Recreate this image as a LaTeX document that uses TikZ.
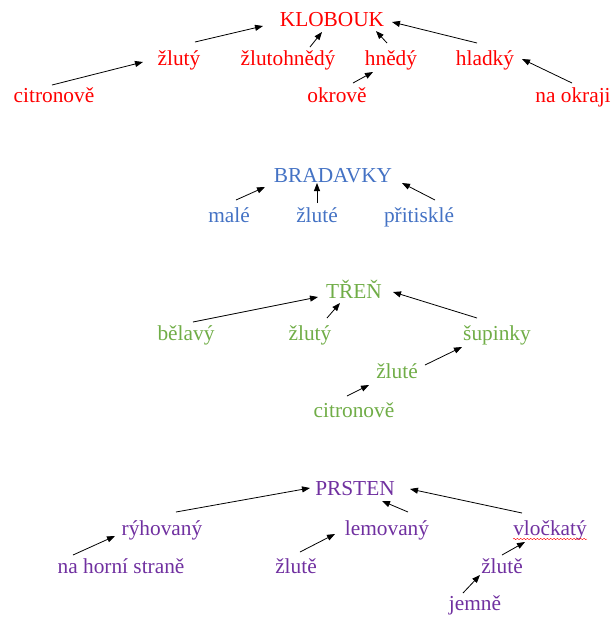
\documentclass[tikz,border=0pt]{standalone}
\usepackage{fontspec}
\setmainfont{Liberation Serif}
\usepackage{xcolor}
\usetikzlibrary{arrows.meta,calc,decorations.pathmorphing}

\definecolor{kred}{HTML}{FF0000}
\definecolor{kblue}{HTML}{4472C4}
\definecolor{kgreen}{HTML}{70AD47}
\definecolor{kpurple}{HTML}{7030A0}

\begin{document}
\begin{tikzpicture}[x=0.75pt,y=-0.75pt,
  word/.style={anchor=base,inner sep=0pt,font=\fontsize{16}{19}\selectfont},
  arr/.style={-{Triangle[length=6pt,width=4.5pt]},line width=0.6pt}]
\useasboundingbox (0,0) rectangle (616,619);

% klobouk
\node[word,kred] (klobouk) at (332,26) {KLOBOUK};
\node[word,kred] (zluty) at (179,65) {žlutý};
\node[word,kred] (zlutohnedy) at (288,65) {žlutohnědý};
\node[word,kred] (hnedy) at (391,65) {hnědý};
\node[word,kred] (hladky) at (485,65) {hladký};
\node[word,kred] (citronove) at (54,102) {citronově};
\node[word,kred] (okrove) at (337,102) {okrově};
\node[word,kred] (naokraji) at (573,102) {na okraji};

\draw[arr] ($(citronove.base)+(-2,-17)$) -- ($(zluty.base)+(-36,-3)$);
\draw[arr] ($(zluty.base)+(16,-23)$) -- ($(klobouk.base)+(-69,0)$);
\draw[arr] ($(zlutohnedy.base)+(22,-18)$) -- ($(klobouk.base)+(-10,6)$);
\draw[arr] ($(hnedy.base)+(-4,-22)$) -- ($(klobouk.base)+(44,5)$);
\draw[arr] ($(hladky.base)+(-8,-22)$) -- ($(klobouk.base)+(60,-4)$);
\draw[arr] ($(okrove.base)+(16,-19)$) -- ($(hnedy.base)+(-18,7)$);
\draw[arr] ($(naokraji.base)+(-1,-19)$) -- ($(hladky.base)+(37,-6)$);

% bradavky
\node[word,kblue] (bradavky) at (333,182) {BRADAVKY};
\node[word,kblue] (male) at (229,222) {malé};
\node[word,kblue] (zlute) at (317,222) {žluté};
\node[word,kblue] (pritiskle) at (419,222) {přitisklé};

\draw[arr] ($(male.base)+(7,-22)$) -- ($(bradavky.base)+(-68,5)$);
\draw[arr] ($(zlute.base)+(0,-19)$) -- ($(bradavky.base)+(-16,1)$);
\draw[arr] ($(pritiskle.base)+(16,-22)$) -- ($(bradavky.base)+(69,1)$);

% tren
\node[word,kgreen] (tren) at (354,298) {TŘEŇ};
\node[word,kgreen] (belavy) at (186,340) {bělavý};
\node[word,kgreen] (trenzluty) at (310,340) {žlutý};
\node[word,kgreen] (supinky) at (497,340) {šupinky};
\node[word,kgreen] (trenzlute) at (397,378) {žluté};
\node[word,kgreen] (trencitronove) at (354,417) {citronově};

\draw[arr] ($(belavy.base)+(7,-18)$) -- ($(tren.base)+(-36,-1)$);
\draw[arr] ($(trenzluty.base)+(17,-22)$) -- ($(tren.base)+(-14,5)$);
\draw[arr] ($(supinky.base)+(-20,-22)$) -- ($(tren.base)+(39,-6)$);
\draw[arr] ($(trenzlute.base)+(28,-13)$) -- ($(supinky.base)+(-35,7)$);
\draw[arr] ($(trencitronove.base)+(-7,-21)$) -- ($(trenzlute.base)+(-28,7)$);

% prsten
\node[word,kpurple] (prsten) at (355,495) {PRSTEN};
\node[word,kpurple] (ryhovany) at (162,535) {rýhovaný};
\node[word,kpurple] (lemovany) at (387,535) {lemovaný};
\node[word,kpurple] (vlockaty) at (550,535) {vločkatý};
\node[word,kpurple] (nahorni) at (121,573) {na horní straně};
\node[word,kpurple] (lemzlute) at (296,573) {žlutě};
\node[word,kpurple] (vloczlute) at (502,573) {žlutě};
\node[word,kpurple] (jemne) at (475,610) {jemně};

\draw[arr] ($(nahorni.base)+(-48,-18)$) -- ($(ryhovany.base)+(-47,1)$);
\draw[arr] ($(ryhovany.base)+(14,-23)$) -- ($(prsten.base)+(-45,-7)$);
\draw[arr] ($(lemzlute.base)+(4,-21)$) -- ($(lemovany.base)+(-52,-1)$);
\draw[arr] ($(lemovany.base)+(21,-23)$) -- ($(prsten.base)+(27,6)$);
\draw[arr] ($(vlockaty.base)+(-28,-22)$) -- ($(prsten.base)+(55,-6)$);
\draw[arr] ($(vloczlute.base)+(0,-18)$) -- ($(vlockaty.base)+(-25,7)$);
\draw[arr] ($(jemne.base)+(-12,-17)$) -- ($(vloczlute.base)+(-22,2)$);
\draw[kred,line width=0.3pt,decorate,decoration={snake,amplitude=0.5pt,segment length=2.5pt}]
  ($(vlockaty.base)+(-37,4)$) -- ($(vlockaty.base)+(37,4)$);
\end{tikzpicture}
\end{document}
